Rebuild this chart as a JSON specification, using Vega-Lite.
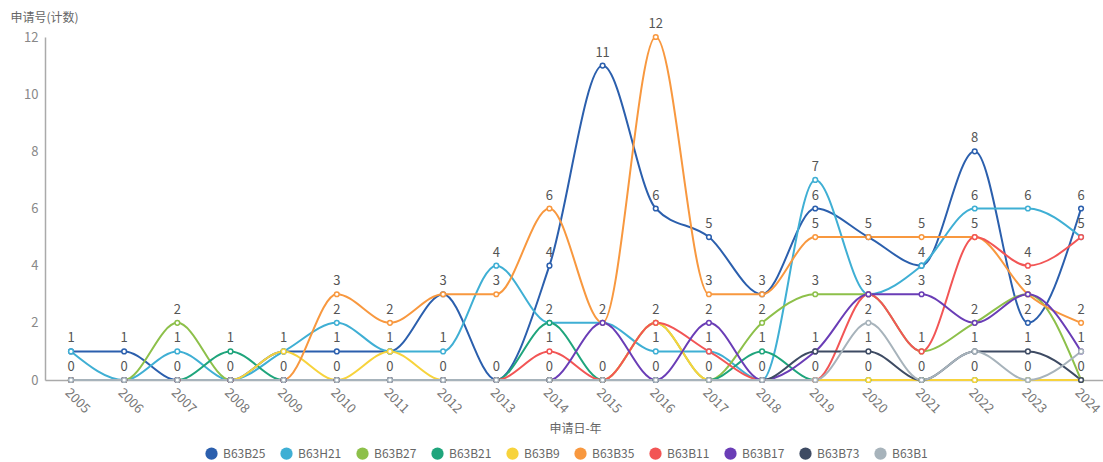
{
  "$schema": "https://vega.github.io/schema/vega-lite/v6.json",
  "autosize": {"type": "none"},
  "width": 1058,
  "height": 343,
  "padding": {"left": 45, "top": 37, "right": 0, "bottom": 82},
  "background": "white",
  "config": {
    "font": "Noto Sans CJK SC",
    "view": {"stroke": null},
    "axis": {"grid": false}
  },
  "data": {
    "values": [
      {"year": 2005, "B63B25": 1, "B63H21": 1, "B63B27": 0, "B63B21": 0, "B63B9": 0, "B63B35": 0, "B63B11": 0, "B63B17": 0, "B63B73": 0, "B63B1": 0},
      {"year": 2006, "B63B25": 1, "B63H21": 0, "B63B27": 0, "B63B21": 0, "B63B9": 0, "B63B35": 0, "B63B11": 0, "B63B17": 0, "B63B73": 0, "B63B1": 0},
      {"year": 2007, "B63B25": 0, "B63H21": 1, "B63B27": 2, "B63B21": 0, "B63B9": 0, "B63B35": 0, "B63B11": 0, "B63B17": 0, "B63B73": 0, "B63B1": 0},
      {"year": 2008, "B63B25": 0, "B63H21": 0, "B63B27": 0, "B63B21": 1, "B63B9": 0, "B63B35": 0, "B63B11": 0, "B63B17": 0, "B63B73": 0, "B63B1": 0},
      {"year": 2009, "B63B25": 1, "B63H21": 1, "B63B27": 0, "B63B21": 0, "B63B9": 1, "B63B35": 0, "B63B11": 0, "B63B17": 0, "B63B73": 0, "B63B1": 0},
      {"year": 2010, "B63B25": 1, "B63H21": 2, "B63B27": 0, "B63B21": 0, "B63B9": 0, "B63B35": 3, "B63B11": 0, "B63B17": 0, "B63B73": 0, "B63B1": 0},
      {"year": 2011, "B63B25": 1, "B63H21": 1, "B63B27": 0, "B63B21": 0, "B63B9": 1, "B63B35": 2, "B63B11": 0, "B63B17": 0, "B63B73": 0, "B63B1": 0},
      {"year": 2012, "B63B25": 3, "B63H21": 1, "B63B27": 0, "B63B21": 0, "B63B9": 0, "B63B35": 3, "B63B11": 0, "B63B17": 0, "B63B73": 0, "B63B1": 0},
      {"year": 2013, "B63B25": 0, "B63H21": 4, "B63B27": 0, "B63B21": 0, "B63B9": 0, "B63B35": 3, "B63B11": 0, "B63B17": 0, "B63B73": 0, "B63B1": 0},
      {"year": 2014, "B63B25": 4, "B63H21": 2, "B63B27": 0, "B63B21": 2, "B63B9": 0, "B63B35": 6, "B63B11": 1, "B63B17": 0, "B63B73": 0, "B63B1": 0},
      {"year": 2015, "B63B25": 11, "B63H21": 2, "B63B27": 0, "B63B21": 0, "B63B9": 0, "B63B35": 2, "B63B11": 0, "B63B17": 2, "B63B73": 0, "B63B1": 0},
      {"year": 2016, "B63B25": 6, "B63H21": 1, "B63B27": 2, "B63B21": 0, "B63B9": 2, "B63B35": 12, "B63B11": 2, "B63B17": 0, "B63B73": 0, "B63B1": 0},
      {"year": 2017, "B63B25": 5, "B63H21": 1, "B63B27": 0, "B63B21": 0, "B63B9": 0, "B63B35": 3, "B63B11": 1, "B63B17": 2, "B63B73": 0, "B63B1": 0},
      {"year": 2018, "B63B25": 3, "B63H21": 0, "B63B27": 2, "B63B21": 1, "B63B9": 0, "B63B35": 3, "B63B11": 0, "B63B17": 0, "B63B73": 0, "B63B1": 0},
      {"year": 2019, "B63B25": 6, "B63H21": 7, "B63B27": 3, "B63B21": 0, "B63B9": 0, "B63B35": 5, "B63B11": 0, "B63B17": 1, "B63B73": 1, "B63B1": 0},
      {"year": 2020, "B63B25": 5, "B63H21": 3, "B63B27": 3, "B63B21": 0, "B63B9": 0, "B63B35": 5, "B63B11": 3, "B63B17": 3, "B63B73": 1, "B63B1": 2},
      {"year": 2021, "B63B25": 4, "B63H21": 4, "B63B27": 1, "B63B21": 0, "B63B9": 0, "B63B35": 5, "B63B11": 1, "B63B17": 3, "B63B73": 0, "B63B1": 0},
      {"year": 2022, "B63B25": 8, "B63H21": 6, "B63B27": 2, "B63B21": 0, "B63B9": 0, "B63B35": 5, "B63B11": 5, "B63B17": 2, "B63B73": 1, "B63B1": 1},
      {"year": 2023, "B63B25": 2, "B63H21": 6, "B63B27": 3, "B63B21": 0, "B63B9": 0, "B63B35": 3, "B63B11": 4, "B63B17": 3, "B63B73": 1, "B63B1": 0},
      {"year": 2024, "B63B25": 6, "B63H21": 5, "B63B27": 0, "B63B21": 0, "B63B9": 0, "B63B35": 2, "B63B11": 5, "B63B17": 1, "B63B73": 0, "B63B1": 1}
    ]
  },
  "transform": [
    {"fold": ["B63B25", "B63H21", "B63B27", "B63B21", "B63B9", "B63B35", "B63B11", "B63B17", "B63B73", "B63B1"], "as": ["code", "count"]}
  ],
  "encoding": {
    "x": {
      "field": "year",
      "type": "quantitative",
      "scale": {"domain": [2004.511, 2024.413], "nice": false, "zero": false},
      "axis": {
        "values": [2005, 2006, 2007, 2008, 2009, 2010, 2011, 2012, 2013, 2014, 2015, 2016, 2017, 2018, 2019, 2020, 2021, 2022, 2023, 2024],
        "format": "d",
        "labelAngle": 45,
        "labelAlign": "left",
        "labelBaseline": "top",
        "labelPadding": 6,
        "labelColor": "#777777",
        "labelFontSize": 13,
        "labelOverlap": false,
        "ticks": false,
        "domainColor": "#aaaaaa",
        "domainWidth": 1.5,
        "title": "申请日-年",
        "titleColor": "#666666",
        "titleFontSize": 12,
        "titleFontWeight": "normal",
        "titleBaseline": "middle",
        "titleY": 48,
        "titleX": 530
      }
    },
    "y": {
      "field": "count",
      "type": "quantitative",
      "scale": {"domain": [0, 12], "nice": false},
      "axis": {
        "values": [0, 2, 4, 6, 8, 10, 12],
        "ticks": false,
        "labelPadding": 7,
        "labelColor": "#888888",
        "labelFontSize": 13,
        "domainColor": "#aaaaaa",
        "domainWidth": 1.5,
        "title": "申请号(计数)",
        "titleAngle": 0,
        "titleAlign": "left",
        "titleBaseline": "middle",
        "titleX": -35,
        "titleY": -20,
        "titleColor": "#666666",
        "titleFontSize": 12,
        "titleFontWeight": "normal"
      }
    }
  },
  "layer": [
    {
      "mark": {"type": "line", "interpolate": "monotone", "strokeWidth": 2},
      "encoding": {
        "color": {
          "field": "code",
          "type": "nominal",
          "scale": {
            "domain": ["B63B25", "B63H21", "B63B27", "B63B21", "B63B9", "B63B35", "B63B11", "B63B17", "B63B73", "B63B1"],
            "range": ["#2b5fad", "#3fafd4", "#8dc04a", "#1fa57c", "#f7d33c", "#f8983f", "#f25555", "#6a3db6", "#3e4b63", "#a7b3bb"]
          },
          "sort": null,
          "legend": {
            "title": null,
            "orient": "none",
            "legendX": 160,
            "legendY": 410,
            "direction": "horizontal",
            "symbolType": "circle",
            "symbolSize": 150,
            "labelFontSize": 12,
            "labelColor": "#666666",
            "labelOffset": 5,
            "columnPadding": 14,
            "encode": {
              "symbols": {
                "update": {
                  "fill": {"scale": "color", "field": "value"},
                  "strokeWidth": {"value": 0},
                  "opacity": {"value": 1}
                }
              }
            }
          }
        }
      }
    },
    {
      "mark": {"type": "point", "filled": false, "fill": "white", "size": 22, "strokeWidth": 1.5, "opacity": 1},
      "encoding": {
        "color": {"field": "code", "type": "nominal", "sort": null}
      }
    },
    {
      "transform": [
        {"aggregate": [], "groupby": ["year", "count"]}
      ],
      "mark": {"type": "text", "dy": -13, "fontSize": 13, "color": "#555555"},
      "encoding": {
        "text": {"field": "count", "type": "quantitative"}
      }
    }
  ]
}
